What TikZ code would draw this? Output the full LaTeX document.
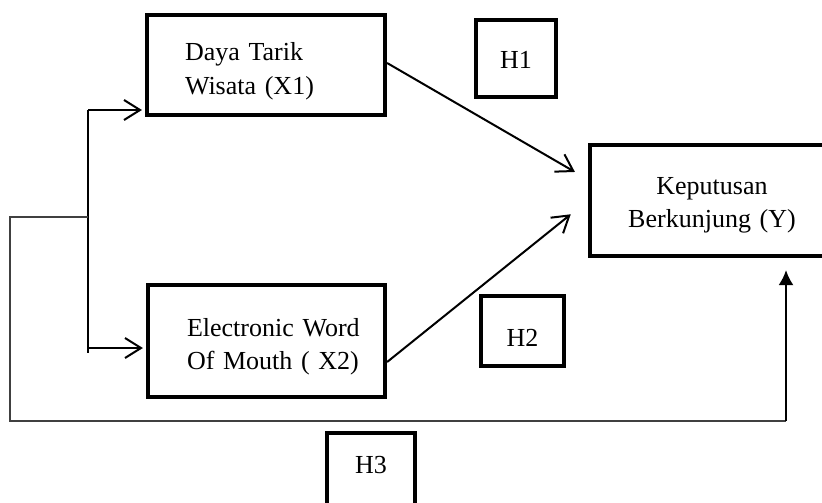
\documentclass[tikz,border=0pt]{standalone}
\usepackage{fontspec}
\setmainfont{Liberation Serif}
\usetikzlibrary{arrows.meta}
\begin{document}
\begin{tikzpicture}[x=1pt,y=-1pt,
  every node/.style={font=\fontsize{26pt}{33pt}\selectfont, inner ysep=0pt, anchor=base},
  mainbox/.style={draw, line width=4.2pt},
  hbox/.style={draw, line width=3.3pt, align=center, inner xsep=0pt},
  link/.style={line width=2pt},
  barb/.style={-{Straight Barb[length=16pt,width=20pt]}},
  loopline/.style={line width=1.3pt, black!75}]
\clip (0,0) rectangle (822,503);
% boxes
\node[mainbox, text width=162pt, inner xsep=38pt, align=left, text height=46pt, text depth=54pt] (x1) at (266,61) {\mbox{Daya Tarik}\\\mbox{Wisata (X1)}};
\node[mainbox, text width=159pt, inner xsep=39pt, align=left, text height=51pt, text depth=61pt] (x2) at (266.5,336) {\mbox{Electronic Word}\\\mbox{Of Mouth ( X2)}};
\node[mainbox, text width=200pt, inner xsep=22pt, align=center, text height=49pt, text depth=62pt] (y) at (712,194) {Keputusan\\Berkunjung (Y)};
\node[hbox, minimum width=80pt, text height=49pt, text depth=28pt] (h1) at (516,69) {H1};
\node[hbox, minimum width=83pt, text height=50pt, text depth=20pt] (h2) at (522.5,346) {H2};
\node[hbox, minimum width=88pt, text height=40pt, text depth=47pt] (h3) at (371,473) {H3};
% coordinates of the bracket and loop
\coordinate (btop) at (88,110);
\coordinate (bbot) at (88,353);
\coordinate (barr) at (88,348);
\coordinate (bmid) at (88,217);
\coordinate (lft) at (10,217);
\coordinate (lbot) at (10,421);
\coordinate (rbot) at (786,421);
% connectors
\draw[link, barb, shorten >=15pt] ([yshift=2pt]x1.east) -- ([yshift=21pt]y.west);
\draw[link, barb, shorten >=22pt] ([yshift=-21pt]x2.east) -- (y.west);
\draw[line width=1.3pt] (btop) -- (bbot);
\draw[link, barb, shorten >=3pt] (btop) -- (btop -| x1.west);
\draw[link, barb, shorten >=3pt] (barr) -- (barr -| x2.west);
\draw[loopline] (bmid) -- (lft) -- (lbot) -- (rbot);
\draw[link, -{Latex[length=15pt,width=15pt]}, shorten >=12pt] (rbot) -- (rbot |- y.south);
\end{tikzpicture}
\end{document}
